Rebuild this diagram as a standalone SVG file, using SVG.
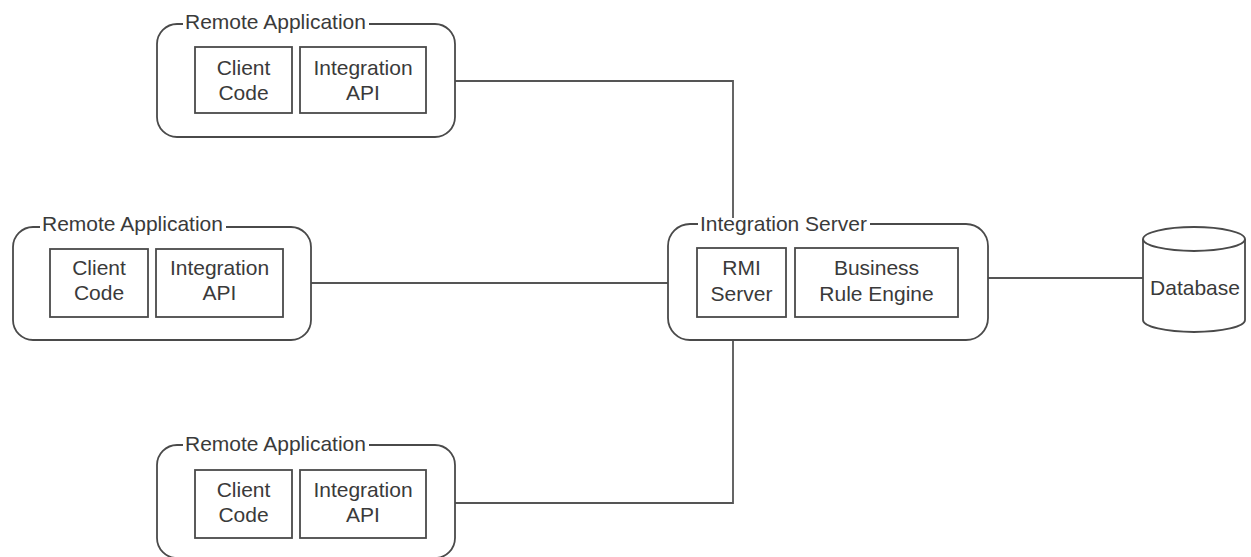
<svg xmlns="http://www.w3.org/2000/svg" width="1251" height="557" viewBox="0 0 1251 557">
<style>
.outer{fill:none;stroke:#4a4a4a;stroke-width:1.8}
.inner{fill:#fff;stroke:#4a4a4a;stroke-width:1.8}
.gap{fill:#fff;stroke:none}
.t{font-family:"Liberation Sans",Arial,sans-serif;font-size:21px;fill:#3a3a3a}
.c{text-anchor:middle}
.conn{fill:none;stroke:#555;stroke-width:1.8}
</style>
<rect width="1251" height="557" fill="#fff"/>
<g id="connectors">
<path class="conn" d="M455 81 H733 V224"/>
<path class="conn" d="M311 283 H668"/>
<path class="conn" d="M455 503 H733 V340"/>
<path class="conn" d="M988 278 H1143" stroke="#222" stroke-width="1.5"/>
</g>
<g id="remote-top">
<rect class="outer" x="157" y="24" width="298" height="113" rx="20"/>
<rect class="gap" x="183" y="18" width="186" height="12"/>
<text class="t" x="185" y="29">Remote Application</text>
<rect class="inner" x="195" y="47" width="97" height="66"/>
<text class="t c" x="243.5" y="75">Client</text>
<text class="t c" x="243.5" y="100">Code</text>
<rect class="inner" x="300" y="47" width="126" height="66"/>
<text class="t c" x="363" y="75">Integration</text>
<text class="t c" x="363" y="100">API</text>
</g>
<g id="remote-middle">
<rect class="outer" x="13" y="227" width="298" height="113" rx="20"/>
<rect class="gap" x="40" y="220" width="186" height="12"/>
<text class="t" x="42" y="231">Remote Application</text>
<rect class="inner" x="50" y="249" width="98" height="68"/>
<text class="t c" x="99" y="275">Client</text>
<text class="t c" x="99" y="300">Code</text>
<rect class="inner" x="156" y="249" width="127" height="68"/>
<text class="t c" x="219.5" y="275">Integration</text>
<text class="t c" x="219.5" y="300">API</text>
</g>
<g id="remote-bottom">
<rect class="outer" x="157" y="445" width="298" height="113" rx="20"/>
<rect class="gap" x="183" y="439" width="186" height="12"/>
<text class="t" x="185" y="451">Remote Application</text>
<rect class="inner" x="195" y="470" width="97" height="68"/>
<text class="t c" x="243.5" y="497">Client</text>
<text class="t c" x="243.5" y="522">Code</text>
<rect class="inner" x="300" y="470" width="126" height="68"/>
<text class="t c" x="363" y="497">Integration</text>
<text class="t c" x="363" y="522">API</text>
</g>
<g id="integration-server">
<rect class="outer" x="668" y="224" width="320" height="116" rx="22"/>
<rect class="gap" x="698" y="218" width="172" height="12"/>
<text class="t" x="700" y="231">Integration Server</text>
<rect class="inner" x="697" y="248" width="89" height="69"/>
<text class="t c" x="741.5" y="275">RMI</text>
<text class="t c" x="741.5" y="301">Server</text>
<rect class="inner" x="795" y="248" width="163" height="69"/>
<text class="t c" x="876.5" y="275">Business</text>
<text class="t c" x="876.5" y="301">Rule Engine</text>
</g>
<g id="database">
<path class="inner" d="M1143 239 V320 A51 12 0 0 0 1245 320 V239"/>
<ellipse class="inner" cx="1194" cy="239" rx="51" ry="12"/>
<text class="t c" x="1195" y="295">Database</text>
</g>
</svg>
